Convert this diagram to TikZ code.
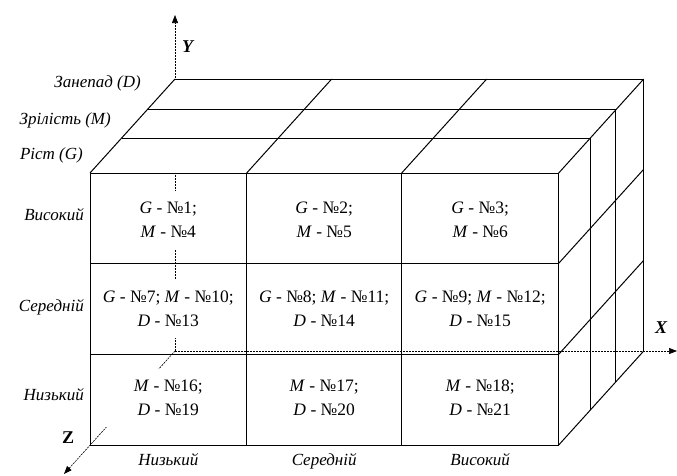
\documentclass[tikz,border=0pt]{standalone}
\usepackage{fontspec}
\setmainfont{Liberation Serif}
\usetikzlibrary{arrows.meta}

\begin{document}
\begin{tikzpicture}[
x=1pt, y=-1pt,
grid/.style={line width=1pt},
axis/.style={line width=0.6pt, dash pattern=on 2pt off 1pt, -{Triangle[length=8pt,width=6pt]}},
cell/.style={fill=white, align=center, minimum width=130pt, minimum height=58pt, inner sep=1pt, font=\fontsize{17.5}{24}\selectfont},
lbl/.style={inner sep=0pt, font=\fontsize{17}{20}\selectfont\itshape},
axlbl/.style={inner sep=0pt, font=\fontsize{18}{20}\selectfont\bfseries\itshape}
]
\useasboundingbox (0,0) rectangle (677,475);

% axes
\coordinate (O) at (175,351);
\coordinate (xend) at (677,351);
\coordinate (yend) at (175,15);
\coordinate (zend) at (64,474);
\draw[axis] (O) -- (xend);
\draw[axis] (O) -- (yend);
\draw[axis] (O) -- (zend);
\node[axlbl, anchor=base west] (xlbl) at (655,333) {X};
\node[axlbl, anchor=base west] (ylbl) at (182,52) {Y};
\node[axlbl, anchor=base west, font=\fontsize{18}{20}\selectfont\bfseries] (zlbl) at (62,443) {Z};

% top face hides the axis
\fill[white] (90,173) -- (558.7,173) -- (643.7,79) -- (175,79) -- cycle;

% front face
\foreach \x in {90,246.7,401.7,558.7}
  \draw[grid] (\x,173) -- (\x,445);
\foreach \y in {173,263.3,354.3,445}
  \draw[grid] (90,\y) -- (558.7,\y);

% top face and right face
\foreach \x in {90,246.7,401.7,558.7}
  \draw[grid] (\x,173) -- ++(85,-94);
\foreach \y in {263.3,354.3,445}
  \draw[grid] (558.7,\y) -- ++(85,-94);
\foreach \dx/\dy in {31.5/34.8,57.1/63.2,85/94}
  \draw[grid] (90+\dx,173-\dy) -- (558.7+\dx,173-\dy) -- (558.7+\dx,445-\dy);

% stages
\node[lbl, anchor=base east] (decl) at (141,87) {Занепад (D)};
\node[lbl, anchor=base east] (matur) at (111,124) {Зрілість (M)};
\node[lbl, anchor=base east] (growth) at (83,159) {Ріст (G)};

% rows
\node[lbl, anchor=base east] (rowhi) at (84,220.7) {Високий};
\node[lbl, anchor=base east] (rowmid) at (84,311.7) {Середній};
\node[lbl, anchor=base east] (rowlo) at (84,400) {Низький};

% columns
\node[lbl, anchor=base] (collo) at (168.3,465) {Низький};
\node[lbl, anchor=base] (colmid) at (324.2,465) {Середній};
\node[lbl, anchor=base] (colhi) at (480.2,465) {Високий};

% cells
\node[cell] (c1) at (168.3,220) {\textit{G} - №1;\\\textit{M} - №4};
\node[cell] (c2) at (324.2,220) {\textit{G} - №2;\\\textit{M} - №5};
\node[cell] (c3) at (480.2,220) {\textit{G} - №3;\\\textit{M} - №6};
\node[cell] (c4) at (168.3,309) {\textit{G} - №7; \textit{M} - №10;\\\textit{D} - №13};
\node[cell] (c5) at (324.2,309) {\textit{G} - №8; \textit{M} - №11;\\\textit{D} - №14};
\node[cell] (c6) at (480.2,309) {\textit{G} - №9; \textit{M} - №12;\\\textit{D} - №15};
\node[cell] (c7) at (168.3,398) {\textit{M} - №16;\\\textit{D} - №19};
\node[cell] (c8) at (324.2,398) {\textit{M} - №17;\\\textit{D} - №20};
\node[cell] (c9) at (480.2,398) {\textit{M} - №18;\\\textit{D} - №21};
\end{tikzpicture}
\end{document}
